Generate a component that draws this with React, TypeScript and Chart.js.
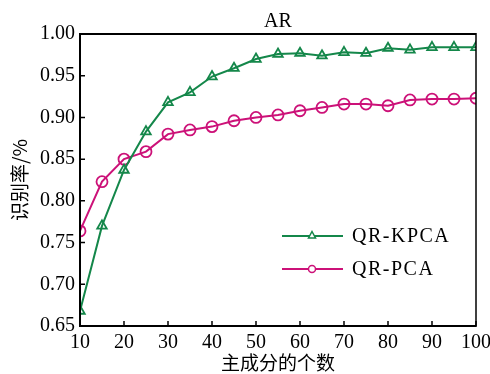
import React, { useEffect, useRef } from "react";
import { Chart, registerables } from "chart.js";

Chart.register(...registerables);

const components = [10, 15, 20, 25, 30, 35, 40, 45, 50, 55, 60, 65, 70, 75, 80, 85, 90, 95, 100];
const qrKpca = [0.668, 0.770, 0.837, 0.883, 0.918, 0.930, 0.949, 0.959, 0.970, 0.976, 0.977, 0.974, 0.978, 0.977, 0.983, 0.981, 0.984, 0.984, 0.984];
const qrPca = [0.764, 0.823, 0.850, 0.859, 0.880, 0.885, 0.889, 0.896, 0.900, 0.903, 0.908, 0.912, 0.916, 0.916, 0.914, 0.921, 0.922, 0.922, 0.923];
const seriesNames = ["QR-KPCA", "QR-PCA"];
const titleText = "AR";
const xTitle = "主成分的个数";
const yTitle = "识别率/%";

const GREEN = "#14874a";
const MAGENTA = "#cc1178";
const SERIF = "'Liberation Serif', 'Times New Roman', serif";
const CJK = "'Noto Sans CJK SC', sans-serif";

const decorPlugin = {
  id: "decor",
  afterDraw(chart: any) {
    const { ctx, chartArea } = chart;
    const { left, right, top, bottom } = chartArea;
    const xs = chart.scales.x;
    const ys = chart.scales.y;
    ctx.save();
    ctx.strokeStyle = "#000";
    ctx.lineWidth = 2;
    ctx.beginPath();
    ctx.moveTo(left, top);
    ctx.lineTo(right, top);
    ctx.moveTo(left, bottom);
    ctx.lineTo(right, bottom);
    ctx.moveTo(left, top - 1);
    ctx.lineTo(left, bottom + 1);
    ctx.stroke();
    ctx.lineWidth = 1.5;
    ctx.beginPath();
    ctx.moveTo(right, top - 1);
    ctx.lineTo(right, bottom + 1);
    ctx.stroke();
    ctx.lineWidth = 1.5;
    ctx.beginPath();
    xs.ticks.forEach((t: any) => {
      const px = xs.getPixelForValue(t.value);
      ctx.moveTo(px, bottom);
      ctx.lineTo(px, bottom - 5);
    });
    ys.ticks.forEach((t: any) => {
      const py = ys.getPixelForValue(t.value);
      ctx.moveTo(left, py);
      ctx.lineTo(left + 5, py);
    });
    ctx.stroke();
    ctx.fillStyle = "#000";
    ctx.font = `20px ${SERIF}`;
    ctx.textAlign = "center";
    ctx.textBaseline = "alphabetic";
    ctx.fillText(titleText, (left + right) / 2, 27);
    const items = [
      { name: seriesNames[0], color: GREEN, style: "triangle", y: 236 },
      { name: seriesNames[1], color: MAGENTA, style: "circle", y: 269 },
    ];
    items.forEach((it) => {
      ctx.strokeStyle = it.color;
      ctx.lineWidth = 2;
      ctx.beginPath();
      ctx.moveTo(282, it.y);
      ctx.lineTo(343, it.y);
      ctx.stroke();
      const cx = 312;
      ctx.lineWidth = 1.5;
      ctx.beginPath();
      if (it.style === "triangle") {
        ctx.moveTo(cx, it.y - 4.5);
        ctx.lineTo(cx + 3.5, it.y + 2);
        ctx.lineTo(cx - 3.5, it.y + 2);
        ctx.closePath();
      } else {
        ctx.arc(cx, it.y, 3.5, 0, Math.PI * 2);
      }
      ctx.fillStyle = "#fff";
      ctx.fill();
      ctx.stroke();
      ctx.fillStyle = "#000";
      ctx.font = `20px ${SERIF}`;
      (ctx as any).letterSpacing = "1.5px";
      ctx.textAlign = "left";
      ctx.textBaseline = "middle";
      ctx.fillText(it.name, 352, it.y + 1);
      (ctx as any).letterSpacing = "0px";
    });
    ctx.restore();
  },
};

export default function App() {
  const ref = useRef<HTMLCanvasElement | null>(null);
  useEffect(() => {
    document.body.style.margin = "0";
    const canvas = ref.current!;
    const chart = new Chart(canvas, {
      type: "line",
      data: {
        datasets: [
          {
            label: seriesNames[0],
            data: components.map((x, i) => ({ x, y: qrKpca[i] })),
            borderColor: GREEN,
            backgroundColor: "#fff",
            borderWidth: 2,
            pointStyle: "triangle",
            pointRadius: 5.5,
            pointBorderWidth: 1.8,
            pointBorderColor: GREEN,
            pointBackgroundColor: "rgba(255,255,255,0)",
          },
          {
            label: seriesNames[1],
            data: components.map((x, i) => ({ x, y: qrPca[i] })),
            borderColor: MAGENTA,
            backgroundColor: "#fff",
            borderWidth: 2,
            pointStyle: "circle",
            pointRadius: 5.5,
            pointBorderWidth: 1.8,
            pointBorderColor: MAGENTA,
            pointBackgroundColor: "rgba(255,255,255,0)",
          },
        ],
      },
      options: {
        animation: false,
        responsive: false,
        maintainAspectRatio: false,
        layout: { padding: { top: 34, right: 14, left: 0, bottom: 0 } },
        plugins: { legend: { display: false }, title: { display: false }, tooltip: { enabled: false } },
        scales: {
          x: {
            type: "linear",
            min: 10,
            max: 100,
            border: { display: false },
            grid: { display: false, drawTicks: false },
            ticks: {
              stepSize: 10,
              color: "#000",
              padding: 5,
              maxRotation: 0,
              font: { family: SERIF, size: 20 },
            },
            title: {
              display: true,
              text: xTitle,
              color: "#000",
              padding: { top: 0, bottom: 0 },
              font: { family: CJK, size: 19 },
            },
            afterFit: (s: any) => {
              s.height = 48;
              s.paddingRight = 0;
              s.paddingLeft = 0;
            },
          },
          y: {
            min: 0.65,
            max: 1.0,
            border: { display: false },
            grid: { display: false, drawTicks: false },
            ticks: {
              stepSize: 0.05,
              color: "#000",
              padding: 5,
              font: { family: SERIF, size: 20 },
              callback: (v: any) => Number(v).toFixed(2),
            },
            title: {
              display: true,
              text: yTitle,
              color: "#000",
              padding: { top: 8, bottom: 0 },
              font: { family: CJK, size: 19 },
            },
            afterFit: (s: any) => {
              s.width = 80;
              s.paddingTop = 0;
              s.paddingBottom = 0;
            },
          },
        },
      },
      plugins: [decorPlugin],
    });
    return () => chart.destroy();
  }, []);
  return (
    <div style={{ width: 490, height: 374 }}>
      <canvas ref={ref} width={490} height={374} style={{ display: "block" }} />
    </div>
  );
}
